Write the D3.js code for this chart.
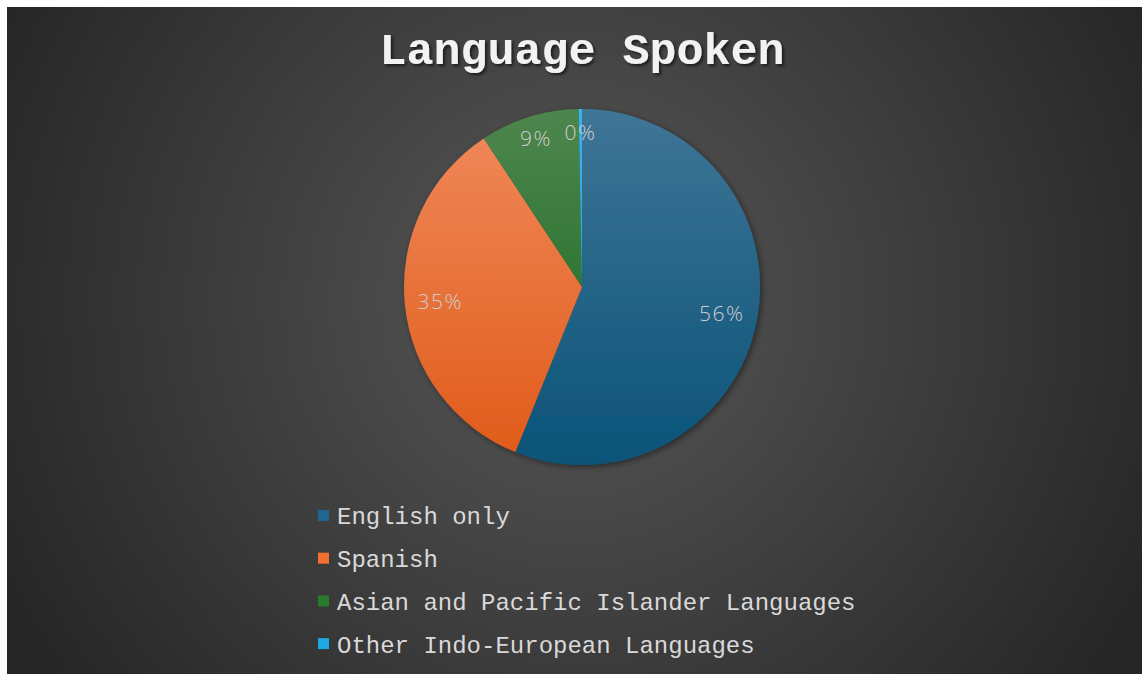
<!DOCTYPE html>
<html><head><meta charset="utf-8">
<script src="https://cdn.jsdelivr.net/npm/d3@7"></script>
<style>html,body{margin:0;padding:0;background:#fff;}svg{display:block;}</style>
</head><body>
<svg id="chart" width="1145" height="675"></svg>
<script>
const categories = ["English only", "Spanish", "Asian and Pacific Islander Languages", "Other Indo-European Languages"];
const values = [56.1, 34.6, 9.0, 0.3];
const title = "Language Spoken";
const colorsTop = ["#3f7597", "#f08a5c", "#4e864e", "#3ab4ea"];
const colorsBottom = ["#0a5378", "#e05a18", "#13661a", "#1a9fda"];
const legendColors = ["#1d6791", "#f07030", "#2a7a2d", "#1ea7e1"];

const W = 1145, H = 675;
const svg = d3.select("#chart");
const defs = svg.append("defs");

const bg = defs.append("radialGradient").attr("id", "bg")
  .attr("gradientUnits", "userSpaceOnUse").attr("cx", 575).attr("cy", 300).attr("r", 640);
bg.append("stop").attr("offset", "0%").attr("stop-color", "#585858");
bg.append("stop").attr("offset", "100%").attr("stop-color", "#262626");

svg.append("rect").attr("x", 7).attr("y", 7).attr("width", 1135).attr("height", 667).attr("fill", "url(#bg)");

const sh = defs.append("filter").attr("id", "tshadow").attr("x", "-10%").attr("y", "-30%").attr("width", "120%").attr("height", "160%");
sh.append("feDropShadow").attr("dx", 2).attr("dy", 2).attr("stdDeviation", 1.5).attr("flood-color", "#000").attr("flood-opacity", 0.6);
const psh = defs.append("filter").attr("id", "pshadow").attr("x", "-10%").attr("y", "-10%").attr("width", "120%").attr("height", "120%");
psh.append("feDropShadow").attr("dx", 2).attr("dy", 2).attr("stdDeviation", 3).attr("flood-color", "#000").attr("flood-opacity", 0.45);

svg.append("text").attr("x", 582).attr("y", 64).attr("text-anchor", "middle")
  .attr("font-family", "'Liberation Mono', 'Courier New', monospace").attr("font-weight", "bold")
  .attr("font-size", 45).attr("fill", "#f2f2f2").attr("filter", "url(#tshadow)").text(title);

const cx = 582, cy = 287, r = 178;
categories.forEach((c, i) => {
  const g = defs.append("linearGradient").attr("id", "g" + i).attr("gradientUnits", "userSpaceOnUse")
    .attr("x1", 0).attr("y1", -r).attr("x2", 0).attr("y2", r);
  g.append("stop").attr("offset", "0%").attr("stop-color", colorsTop[i]);
  g.append("stop").attr("offset", "100%").attr("stop-color", colorsBottom[i]);
});

const pie = d3.pie().sort(null).value(d => d);
const arcs = pie(values);
const arc = d3.arc().innerRadius(0).outerRadius(r);
const pg = svg.append("g").attr("transform", `translate(${cx},${cy})`);
pg.append("g").attr("filter", "url(#pshadow)").selectAll("path").data(arcs).join("path")
  .attr("d", arc).attr("fill", (d, i) => `url(#g${i})`);

const fmt = d3.format(".0f");
const labelArc = d => {
  const frac = (d.endAngle - d.startAngle) / (2 * Math.PI);
  const lr = frac < 0.15 ? r * 0.87 : r * 0.8;
  return d3.arc().innerRadius(lr).outerRadius(lr).centroid(d);
};
pg.selectAll("text.lbl").data(arcs).join("text").attr("class", "lbl")
  .attr("transform", d => `translate(${labelArc(d)})`)
  .attr("text-anchor", "middle").attr("dy", "0.35em")
  .attr("font-family", "'Open Sans', sans-serif").attr("font-weight", 300)
  .attr("font-size", 21).attr("letter-spacing", 1.5).attr("fill", "#cfcfcf")
  .text(d => fmt(d.data) + "%");

const lg = svg.append("g").attr("transform", "translate(318,516)");
const rows = lg.selectAll("g").data(categories).join("g")
  .attr("transform", (d, i) => `translate(0,${i * 42.7})`);
rows.append("rect").attr("x", 0).attr("y", -6).attr("width", 11).attr("height", 11)
  .attr("fill", (d, i) => legendColors[i]);
rows.append("text").attr("x", 19).attr("y", 0).attr("dy", "0.35em")
  .attr("font-family", "'Liberation Mono', 'Courier New', monospace")
  .attr("font-size", 24).attr("fill", "#d9d9d9").text(d => d);
</script>
</body></html>
